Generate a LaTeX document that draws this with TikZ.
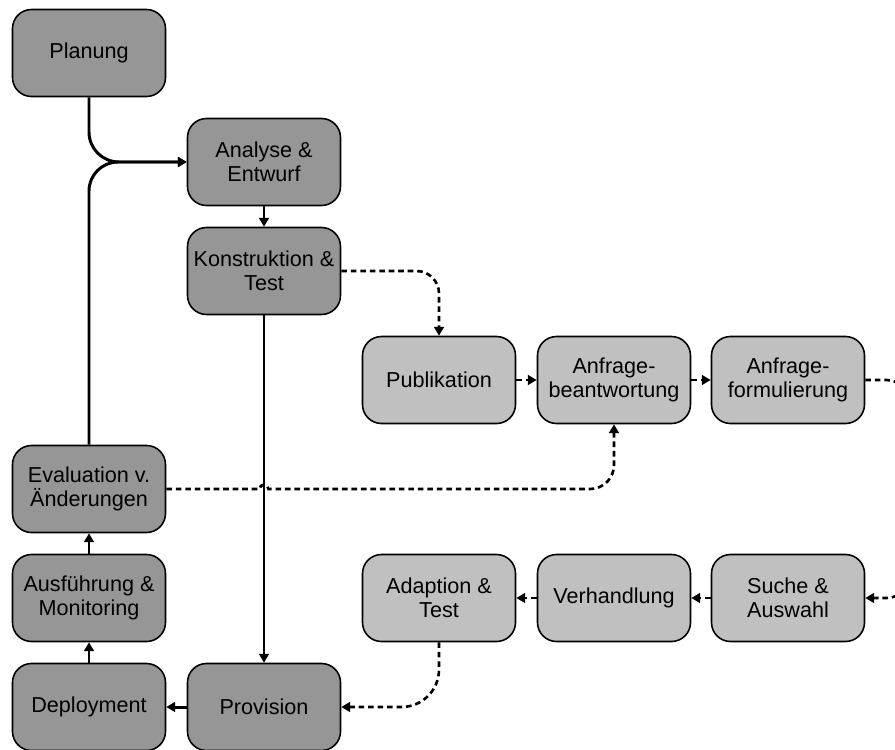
\documentclass[tikz,border=0pt]{standalone}
\usepackage{fontspec}
\setmainfont{Liberation Sans}
\usetikzlibrary{arrows.meta}
\definecolor{phasegray}{RGB}{150,150,150}
\definecolor{servgray}{RGB}{192,192,192}
\begin{document}
\begin{tikzpicture}[>={Triangle[length=5pt,width=5.5pt]},
  box/.style={draw,line width=0.9pt,rounded corners=0.38cm,minimum width=3.06cm,
    minimum height=1.74cm,align=center,inner sep=1pt,font=\fontsize{12.3}{13.8}\selectfont},
  phasebox/.style={box,fill=phasegray},
  servbox/.style={box,fill=servgray},
  flow/.style={->,line width=1.7pt},
  msg/.style={->,line width=1.5pt,dash pattern=on 3.2pt off 2.2pt}]
\useasboundingbox (0,0) rectangle (17.9,-14.98);

\node[phasebox] (plan) at (1.78,-1.06) {Planung};
\node[phasebox] (analyse) at (5.28,-3.24) {Analyse \&\\Entwurf};
\node[phasebox] (konstr) at (5.28,-5.42) {Konstruktion \&\\Test};
\node[phasebox] (eval) at (1.78,-9.78) {Evaluation v.\\Änderungen};
\node[phasebox] (ausf) at (1.78,-11.96) {Ausführung \&\\Monitoring};
\node[phasebox] (deploy) at (1.78,-14.14) {Deployment};
\node[phasebox] (prov) at (5.28,-14.14) {Provision};

\node[servbox] (publ) at (8.78,-7.60) {Publikation};
\node[servbox] (beant) at (12.28,-7.60) {Anfrage-\\beantwortung};
\node[servbox] (formul) at (15.76,-7.60) {Anfrage-\\formulierung};
\node[servbox] (adapt) at (8.78,-11.96) {Adaption \&\\Test};
\node[servbox] (verh) at (12.28,-11.96) {Verhandlung};
\node[servbox] (suche) at (15.76,-11.96) {Suche \&\\Auswahl};

\draw[flow,rounded corners=0.6cm] (plan.south) |- (analyse.west);
\draw[flow,rounded corners=0.58cm] (eval.north) |- (analyse.west);
\draw[flow] (analyse) -- (konstr);
\draw[flow] (konstr) -- (prov);
\draw[flow] (prov) -- (deploy);
\draw[flow] (deploy) -- (ausf);
\draw[flow] (ausf) -- (eval);

\draw[msg,rounded corners=0.45cm] (konstr.east) -| (publ.north);
\draw[msg] (publ) -- (beant);
\draw[msg] (beant) -- (formul);
\draw[msg,rounded corners=0.5cm] (formul.east) -- ++(0.92,0) |- (suche.east);
\draw[msg] (suche) -- (verh);
\draw[msg] (verh) -- (adapt);
\draw[msg,rounded corners=0.75cm] (adapt.south) |- (prov.east);
\draw[msg] (eval.east) -- ([xshift=-2.5pt]eval.east -| konstr.south)
  arc[start angle=180,end angle=0,radius=2.5pt]
  [rounded corners=0.48cm] -| (beant.south);
\end{tikzpicture}
\end{document}
